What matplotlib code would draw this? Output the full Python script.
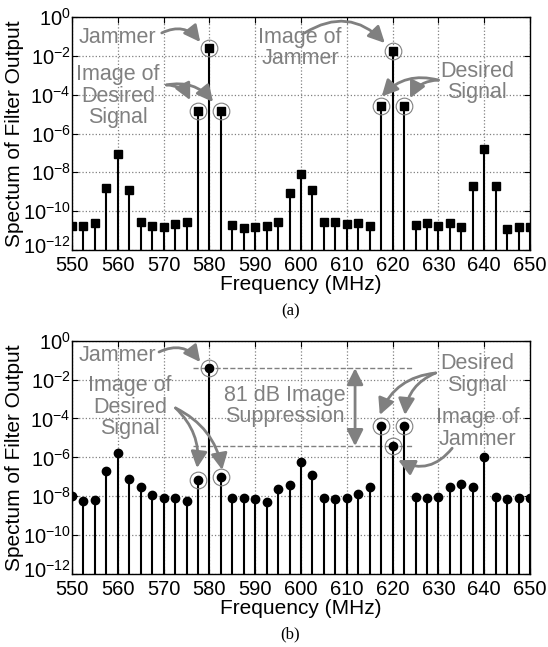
import numpy as np
import matplotlib
matplotlib.use("Agg")
import matplotlib.pyplot as plt
from matplotlib.transforms import ScaledTranslation

plt.rcParams['font.family'] = ['Liberation Sans', 'DejaVu Sans']
plt.rcParams['mathtext.fontset'] = 'custom'
plt.rcParams['mathtext.rm'] = 'Liberation Sans'
plt.rcParams['mathtext.it'] = 'Liberation Sans'

freq = [550, 552.5, 555, 557.5, 560, 562.5, 565, 567.5, 570, 572.5,
        575, 577.5, 580, 582.5, 585, 587.5, 590, 592.5, 595, 597.5,
        600, 602.5, 605, 607.5, 610, 612.5, 615, 617.5, 620, 622.5,
        625, 627.5, 630, 632.5, 635, 637.5, 640, 642.5, 645, 647.5, 650]

# (a) spectrum, square markers
spec_a = [1.7e-11, 1.7e-11, 2.4e-11, 1.5e-9, 9.3e-8, 1.3e-9, 2.7e-11, 1.8e-11, 1.5e-11, 2.3e-11,
          2.7e-11, 1.5e-5, 2.4e-2, 1.5e-5, 2.0e-11, 1.4e-11, 1.5e-11, 1.8e-11, 2.8e-11, 8.5e-10,
          8.1e-9, 1.2e-9, 2.8e-11, 2.8e-11, 2.1e-11, 2.4e-11, 1.8e-11, 2.5e-5, 1.7e-2, 2.5e-5,
          2.0e-11, 2.4e-11, 1.8e-11, 2.6e-11, 1.5e-11, 1.9e-9, 1.6e-7, 1.9e-9, 1.2e-11, 1.5e-11, 1.5e-11]

# (b) spectrum, round markers
spec_b = [1.05e-8, 5.9e-9, 6.3e-9, 1.95e-7, 1.6e-6, 7.9e-8, 3.0e-8, 1.2e-8, 7.8e-9, 8.3e-9,
          6.0e-9, 6.8e-8, 3.9e-2, 9.3e-8, 8.3e-9, 8.3e-9, 7.1e-9, 5.0e-9, 2.3e-8, 3.6e-8,
          5.9e-7, 1.2e-7, 7.8e-9, 7.4e-9, 8.3e-9, 1.3e-8, 3.1e-8, 4.1e-5, 3.8e-6, 4.1e-5,
          9.1e-9, 8.3e-9, 9.1e-9, 3.1e-8, 4.2e-8, 3.1e-8, 1.1e-6, 9.3e-9, 7.4e-9, 7.8e-9, 8.3e-9]

circled = [577.5, 580, 582.5, 617.5, 620, 622.5]
gray = '#808080'
afs = 15.5  # annotation font size

fig = plt.figure(figsize=(5.48, 6.47), dpi=100)
ax1 = fig.add_axes([0.1314, 0.6136, 0.8358, 0.3601])
ax2 = fig.add_axes([0.1314, 0.1128, 0.8358, 0.3606])


def setup(ax, y, marker):
    ax.set_yscale('log')
    ax.vlines(freq, 1e-12, y, color='k', lw=1.5, zorder=3)
    ax.plot(freq, y, ls='none', marker=marker, ms=6, color='k', zorder=4)
    ax.set_xlim(550, 650)
    ax.set_ylim(1e-12, 1)
    ax.set_xticks(np.arange(550, 651, 10))
    ax.set_yticks([10.0 ** e for e in range(-12, 1, 2)])
    ax.set_yticklabels([r'$\mathregular{10^{%d}}$' % e for e in range(-12, 1, 2)])
    ax.minorticks_off()
    ax.grid(True, ls=':', color='#808080', lw=0.9)
    ax.tick_params(direction='in', top=True, right=True, length=4, labelsize=14.5)
    ax.tick_params(axis='x', pad=4)
    ax.tick_params(axis='y', pad=1)
    # lift the bottom label a little so it clears the 550 label
    lab = ax.yaxis.get_major_ticks()[0].label1
    lab.set_transform(lab.get_transform() + ScaledTranslation(0, 4 / 72, fig.dpi_scale_trans))
    for s in ax.spines.values():
        s.set_linewidth(1.0)
    ax.set_xlabel('Frequency (MHz)', fontsize=15, labelpad=0)
    ax.set_ylabel('Spectum of Filter Output', fontsize=15, labelpad=-1)
    idx = [freq.index(f) for f in circled]
    ax.plot([freq[i] for i in idx], [y[i] for i in idx], ls='none', marker='o', ms=12,
            mfc='none', mec=gray, mew=0.8, zorder=5)


def note(ax, text, x, logy):
    ax.text(x, 10 ** logy, text, color=gray, fontsize=afs, ha='center', va='center',
            linespacing=1.05, zorder=6)


def arrow(ax, start, end, rad):
    ax.annotate('', xy=(end[0], 10 ** end[1]), xytext=(start[0], 10 ** start[1]),
                arrowprops=dict(arrowstyle='-|>,head_length=0.7,head_width=0.35', color=gray, lw=2,
                                connectionstyle='arc3,rad=%g' % rad, shrinkA=0, shrinkB=0,
                                mutation_scale=14), zorder=6)


setup(ax1, spec_a, 's')
setup(ax2, spec_b, 'o')

# (a) annotations
note(ax1, 'Jammer', 559.9, -1.03)
arrow(ax1, (569.6, -0.82), (578, -1.29), -0.4)
note(ax1, 'Image of\nDesired\nSignal', 560, -4.07)
arrow(ax1, (570.6, -3.5), (575.8, -4.28), -0.3)
arrow(ax1, (570.6, -3.5), (580.8, -4.38), -0.3)
note(ax1, 'Image of\nJammer', 599.8, -1.6)
arrow(ax1, (600.8, -0.82), (618.3, -1.34), -0.4)
note(ax1, 'Desired\nSignal', 638.4, -3.35)
arrow(ax1, (630.0, -3.25), (617.6, -4.1), 0.3)
arrow(ax1, (630.0, -3.25), (623.8, -4.18), 0.3)

# (b) annotations
note(ax2, 'Jammer', 560, -0.74)
arrow(ax2, (569.0, -0.58), (578, -1.10), -0.4)
note(ax2, 'Image of\nDesired\nSignal', 562.7, -3.41)
arrow(ax2, (572.6, -3.46), (577.3, -6.55), -0.25)
arrow(ax2, (572.6, -3.46), (582.8, -6.65), -0.25)
note(ax2, 'Desired\nSignal', 638.4, -1.72)
arrow(ax2, (629.4, -1.66), (617.2, -3.82), 0.3)
arrow(ax2, (629.4, -1.66), (622.7, -3.82), 0.3)
note(ax2, 'Image of\nJammer', 638.6, -4.5)
arrow(ax2, (633, -5.53), (621.2, -6.14), -0.4)

# suppression marker between jammer and its image
jam = spec_b[freq.index(580)]
img = spec_b[freq.index(620)]
ax2.hlines([jam, img], 576.4, 624.5, colors=gray, linestyles='--', lw=1.0, zorder=2)
ax2.annotate('', xy=(611.8, jam), xytext=(611.8, img),
             arrowprops=dict(arrowstyle='<|-|>,head_length=0.7,head_width=0.35', color=gray, lw=2,
                             shrinkA=0, shrinkB=0, mutation_scale=14), zorder=6)
ax2.text(596.5, 10 ** -3.36, '81 dB Image\nSuppression', color=gray, fontsize=afs,
         ha='center', va='center', linespacing=1.05, zorder=6)

fig.text(0.53, 0.518, '(a)', fontsize=12, family='Liberation Serif', ha='center', va='center')
fig.text(0.53, 0.02, '(b)', fontsize=12, family='Liberation Serif', ha='center', va='center')

fig.savefig('out.png', dpi=100)
